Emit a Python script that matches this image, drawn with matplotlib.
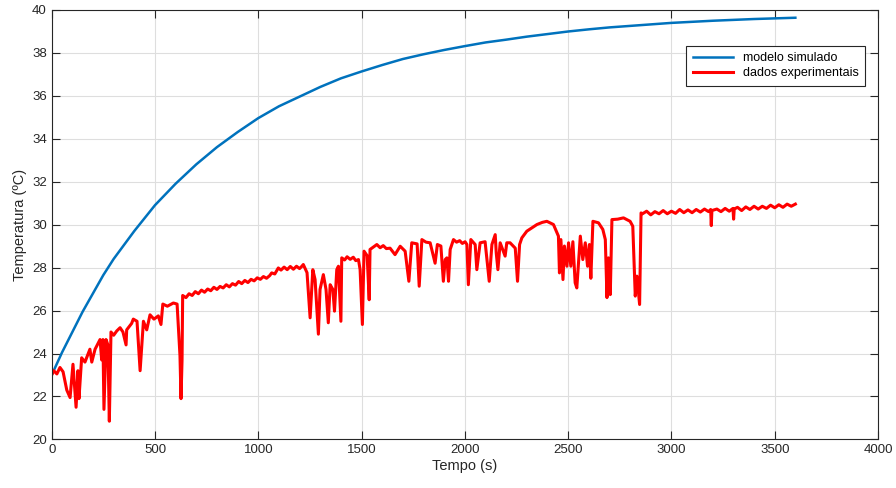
import matplotlib
matplotlib.use("Agg")
from matplotlib import pyplot as plt

plt.rcParams['font.family'] = ['Liberation Sans', 'DejaVu Sans']

# simulated model (s, degC)
sim_t = [0, 50, 100, 150, 200, 250, 300, 400, 500, 600, 700, 800, 900, 1000,
         1100, 1200, 1300, 1400, 1500, 1600, 1700, 1800, 1900, 2000, 2100,
         2200, 2300, 2400, 2500, 2600, 2700, 2800, 2900, 3000, 3100, 3200,
         3300, 3400, 3500, 3600]
sim_T = [23.0, 24.05, 25.0, 25.95, 26.8, 27.65, 28.4, 29.7, 30.9, 31.9, 32.8,
         33.6, 34.3, 34.95, 35.5, 35.95, 36.4, 36.8, 37.12, 37.42, 37.7,
         37.92, 38.12, 38.3, 38.47, 38.6, 38.74, 38.86, 38.98, 39.08, 39.17,
         39.24, 39.31, 39.38, 39.43, 39.48, 39.52, 39.56, 39.59, 39.62]

# experimental data (s, degC)
exp_t = [0, 10, 25, 40, 55, 73, 89, 103, 118, 127, 132, 145, 161, 185, 194,
         210, 234, 242, 248, 253, 263, 272, 279, 287, 300, 315, 331, 345, 360,
         363, 387, 395, 413, 428, 444, 460, 476, 495, 516, 529, 538, 560, 589,
         607, 621, 626, 631,
         634, 650, 665, 680, 695, 710, 725, 740, 755, 770, 785, 800, 815, 830,
         845, 860, 875, 890, 905, 920, 935, 950, 965, 980, 995, 1010, 1025,
         1040, 1055, 1065, 1080, 1097, 1110, 1125, 1140, 1155, 1170, 1185,
         1200, 1211, 1218,
         1236, 1251, 1264, 1275, 1291, 1299, 1315, 1328, 1339, 1348, 1361,
         1369, 1380, 1388, 1400, 1404, 1418, 1430, 1445, 1460, 1472, 1485,
         1493, 1504, 1512, 1527, 1537, 1541, 1557, 1574, 1590, 1605, 1620,
         1638, 1662, 1687, 1711, 1729, 1743, 1769, 1779, 1792, 1812, 1832,
         1856, 1867, 1884, 1896, 1905, 1913, 1921, 1929, 1945, 1960, 1975,
         1988, 2001, 2010, 2017, 2029, 2050, 2058, 2074, 2098, 2118, 2131,
         2147, 2152, 2160, 2171, 2195, 2203, 2219, 2244, 2255, 2265, 2276,
         2300, 2325, 2349, 2375, 2397, 2429, 2453, 2458, 2465, 2475, 2482,
         2494, 2502, 2513, 2523, 2534, 2542, 2559, 2571, 2583, 2594, 2603,
         2610, 2620, 2647, 2668, 2680, 2688, 2695, 2704, 2712, 2740, 2768,
         2800, 2813, 2825, 2833, 2846, 2853, 2860, 2880, 2900, 2920, 2940,
         2960, 2980, 3000, 3020, 3040, 3060, 3080, 3100, 3120, 3140, 3160,
         3180, 3190, 3193, 3196, 3220, 3240, 3260, 3280, 3298, 3301, 3304,
         3320, 3340, 3360, 3380, 3400, 3420, 3440, 3460, 3480, 3500, 3520,
         3540, 3560, 3580, 3600]
exp_T = [23.0, 23.2, 23.05, 23.35, 23.15, 22.3, 21.95, 23.5, 21.5, 23.2,
         21.9, 23.8, 23.6, 24.2, 23.6, 24.2, 24.65, 23.7, 24.65, 21.4, 24.65,
         24.4, 20.85, 25.0, 24.85, 25.05, 25.2, 25.0, 24.4, 25.1, 25.4, 25.6,
         25.5, 23.2, 25.5, 25.1, 25.8, 25.6, 25.75, 25.35, 26.3, 26.2, 26.35,
         26.3, 23.9, 21.9, 23.7,
         26.7, 26.6, 26.78, 26.7, 26.88, 26.78, 26.95, 26.85, 27.0, 26.92,
         27.08, 26.98, 27.12, 27.05, 27.2, 27.1, 27.25, 27.18, 27.35, 27.25,
         27.4, 27.3, 27.45, 27.38, 27.52, 27.45, 27.58, 27.5, 27.62, 27.75,
         27.7, 27.98, 27.88, 28.02, 27.9, 28.05, 27.92, 28.06, 27.95, 28.06,
         28.14,
         27.76, 25.66, 27.9, 27.44, 24.9, 26.98, 27.67, 26.98, 25.43, 27.2,
         26.98, 25.97, 27.9, 28.06, 25.5, 28.45, 28.35, 28.5, 28.38, 28.48,
         28.32, 28.37, 27.9, 25.35, 28.76, 28.55, 26.5, 28.84, 28.95, 29.07,
         28.92, 29.02, 28.88, 28.9, 28.6, 28.99, 28.76, 27.36, 29.15, 29.1,
         27.13, 29.3, 29.18, 29.15, 28.2, 29.07, 29.0, 27.36, 28.37, 28.45,
         27.36, 28.84, 29.3, 29.18, 29.25, 29.12, 29.2, 29.07, 27.2, 29.3,
         29.07, 27.9, 29.15, 29.2, 27.36, 29.07, 29.53, 28.68, 27.9, 29.15,
         28.53, 29.15, 29.15, 28.9, 27.36, 29.07, 29.38, 29.69, 29.85, 30.0,
         30.1, 30.15, 30.0, 29.46, 27.75, 29.3, 27.44, 29.0, 28.06, 29.15,
         28.06, 29.2, 27.29, 27.05, 29.46, 28.37, 29.15, 28.06, 29.07, 27.5,
         30.15, 30.08, 29.77, 29.3, 26.6, 28.45, 26.74, 30.23, 30.25, 30.31,
         30.15, 29.92, 26.67, 27.6, 26.28, 30.54, 30.5, 30.62, 30.45, 30.6,
         30.5, 30.65, 30.5, 30.62, 30.52, 30.7, 30.55, 30.68, 30.55, 30.7,
         30.58, 30.72, 30.6, 30.7, 29.95, 30.65, 30.72, 30.6, 30.75, 30.62,
         30.75, 30.25, 30.72, 30.8, 30.65, 30.82, 30.7, 30.85, 30.72, 30.85,
         30.75, 30.9, 30.78, 30.92, 30.8, 30.95, 30.85, 30.95]

x_ticks = [0, 500, 1000, 1500, 2000, 2500, 3000, 3500, 4000]
y_ticks = [20, 22, 24, 26, 28, 30, 32, 34, 36, 38, 40]

fig = plt.figure(figsize=(8.96, 4.88), dpi=100)
ax = fig.add_axes([0.0577, 0.0994, 0.9222, 0.881])

ax.plot(sim_t, sim_T, color='#0072BD', lw=1.8, label='modelo simulado')
ax.plot(exp_t, exp_T, color='#FF0000', lw=2.2, label='dados experimentais')

ax.set_xlim(0, 4000)
ax.set_ylim(20, 40)
ax.set_xticks(x_ticks)
ax.set_yticks(y_ticks)
ax.grid(True, color='#dedede', lw=0.8)
ax.set_axisbelow(True)
ax.tick_params(direction='in', length=6, width=0.8, colors='#262626',
               labelsize=9.5, top=True, right=True)
for s in ax.spines.values():
    s.set_color('#262626')
    s.set_linewidth(0.8)

ax.set_xlabel('Tempo (s)', fontsize=10.5, color='#262626', labelpad=2)
ax.set_ylabel('Temperatura (ºC)', fontsize=10.5, color='#262626', labelpad=4)

leg = ax.legend(loc='upper right', bbox_to_anchor=(0.984, 0.915), fontsize=9,
                borderaxespad=0, fancybox=False, framealpha=1,
                edgecolor='#262626', handlelength=3.2, borderpad=0.5,
                labelspacing=0.25)
leg.get_frame().set_linewidth(0.8)

plt.savefig('out.png')
